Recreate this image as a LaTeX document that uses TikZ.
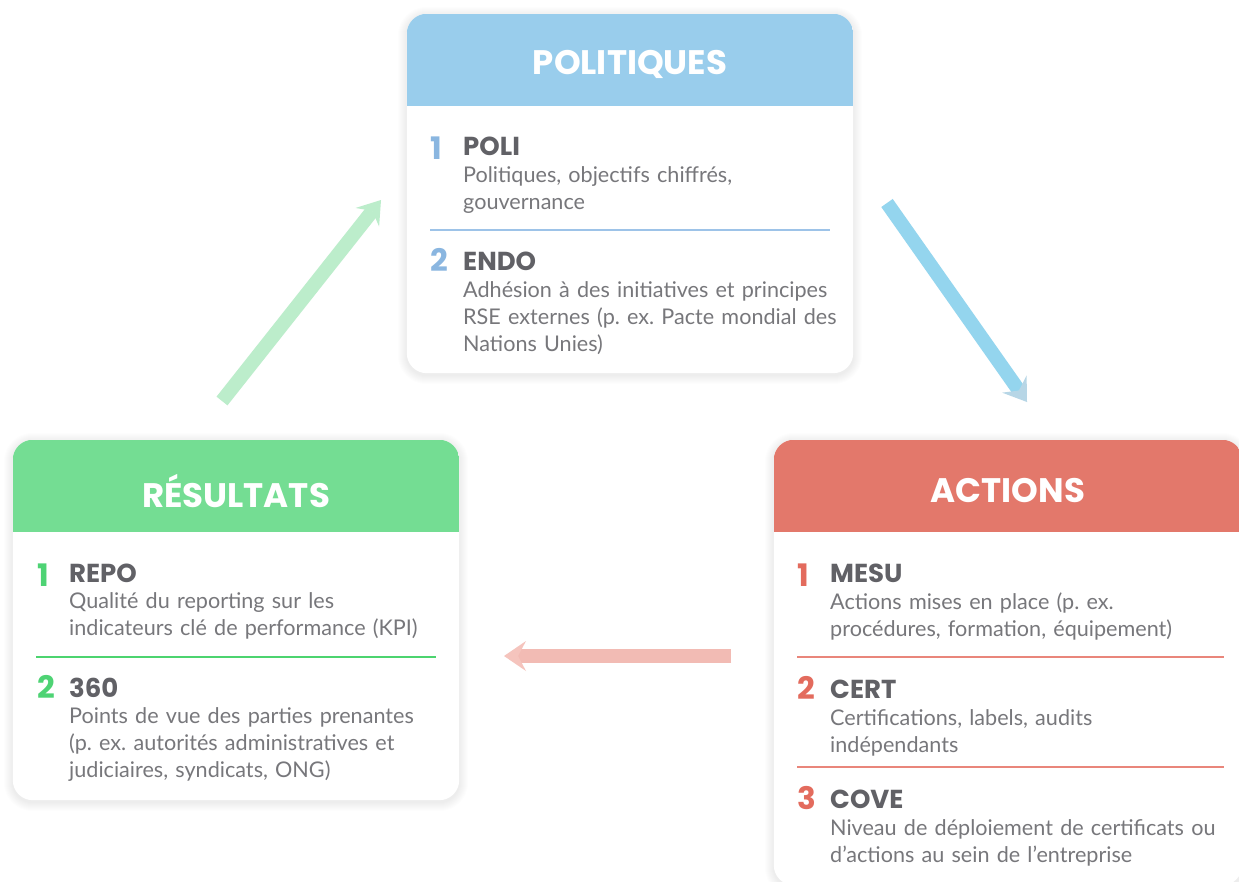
\documentclass[tikz,border=0pt]{standalone}
\usepackage{fontspec}
\setmainfont{Lato}
\newfontfamily\headfont{Poppins}
\usetikzlibrary{arrows.meta,positioning}
\frenchspacing

\definecolor{polhead}{HTML}{99CDEC}
\definecolor{polnum}{HTML}{8AB6E0}
\definecolor{polline}{HTML}{9DC3E8}
\definecolor{acthead}{HTML}{E3786B}
\definecolor{actnum}{HTML}{E36B5D}
\definecolor{actline}{HTML}{E9867B}
\definecolor{reshead}{HTML}{74DD93}
\definecolor{resnum}{HTML}{4ED374}
\definecolor{resline}{HTML}{4CD46F}
\definecolor{titlegray}{HTML}{616166}
\definecolor{descgray}{HTML}{77777B}
\definecolor{bluearrow}{HTML}{94D5EE}
\definecolor{bluetip}{HTML}{B7D6E6}
\definecolor{greenarrow}{HTML}{BCEDCB}
\definecolor{redarrow}{HTML}{F2BBB4}
\definecolor{redtip}{HTML}{F5C4BD}

\tikzset{
  card/.style={inner sep=0pt},
  cardtitle/.style={text=white, inner sep=0pt, font=\headfont\bfseries\fontsize{34}{40}\selectfont},
  num/.style={anchor=base west, inner sep=0pt, font=\headfont\bfseries\fontsize{31}{36}\selectfont},
  itemtitle/.style={anchor=base west, inner sep=0pt, text=titlegray, font=\headfont\bfseries\fontsize{26}{30}\selectfont},
  desc/.style={anchor=base west, inner sep=0pt, text=descgray, text width=420pt, align=left, font=\fontsize{21.6}{27}\selectfont},
  flow/.style={line width=14pt},
}

\begin{document}
\begin{tikzpicture}[x=1pt, y=-1pt]
  \clip (0,0) rectangle (1239,881);
  \fill[white] (0,0) rectangle (1239,881);

  % the three cards
  \node[card, minimum width=446pt, minimum height=359pt] (pol) at (630,193.5) {};
  \node[card, minimum width=446pt, minimum height=360pt] (res) at (236,620) {};
  \node[card, minimum width=468pt, minimum height=445pt] (act) at (1008,662.5) {};

  % soft shadow, then the white card and its coloured head
  \foreach \c/\h in {pol/polhead, res/reshead, act/acthead} {
    \foreach \s in {1,...,9}
      \fill[black, opacity=0.006, rounded corners={(20+\s)*1pt}]
        ([shift={(-\s,-\s+2)}]\c.north west) rectangle ([shift={(\s,\s+2)}]\c.south east);
    \fill[white, rounded corners=20pt] (\c.north west) rectangle (\c.south east);
    \begin{scope}
      \clip[rounded corners=20pt] (\c.north west) rectangle (\c.south east);
      \fill[\h] (\c.north west) rectangle ([yshift=-92pt]\c.north east);
    \end{scope}
  }

  \node[cardtitle] (poltitle) at ([yshift=-51pt]pol.north) {POLITIQUES};
  \node[cardtitle] (restitle) at ([yshift=-51pt]res.north) {RÉSULTATS};
  \node[cardtitle] (acttitle) at ([yshift=-51pt]act.north) {ACTIONS};

  % politiques
  \node[num, text=polnum] (p1n) at (430,159) {1};
  \node[itemtitle] (p1t) at (463,155) {POLI};
  \node[desc] (p1d) at (463,182) {Politiques, objectifs chiffrés,\\gouvernance};
  \draw[polline, line width=1.2pt] (430,230) -- (830,230);
  \node[num, text=polnum] (p2n) at (430,271) {2};
  \node[itemtitle] (p2t) at (463,270) {ENDO};
  \node[desc] (p2d) at (463,297) {Adhésion à des initiatives et principes\\RSE externes (p. ex. Pacte mondial des\\Nations Unies)};

  % resultats
  \node[num, text=resnum] (r1n) at (37,586) {1};
  \node[itemtitle] (r1t) at (69,582) {REPO};
  \node[desc] (r1d) at (69,608) {Qualité du reporting sur les\\indicateurs clé de performance (KPI)};
  \draw[resline, line width=1.2pt] (36,657) -- (436,657);
  \node[num, text=resnum] (r2n) at (37,698) {2};
  \node[itemtitle] (r2t) at (69,697) {360};
  \node[desc] (r2d) at (69,723) {Points de vue des parties prenantes\\(p. ex. autorités administratives et\\judiciaires, syndicats, ONG)};

  % actions
  \node[num, text=actnum] (a1n) at (797,586) {1};
  \node[itemtitle] (a1t) at (830,582) {MESU};
  \node[desc] (a1d) at (830,609) {Actions mises en place (p. ex.\\procédures, formation, équipement)};
  \draw[actline, line width=1.2pt] (797,657) -- (1224,657);
  \node[num, text=actnum] (a2n) at (797,699) {2};
  \node[itemtitle] (a2t) at (830,698) {CERT};
  \node[desc] (a2d) at (830,725) {Certifications, labels, audits\\indépendants};
  \draw[actline, line width=1.2pt] (797,767) -- (1224,767);
  \node[num, text=actnum] (a3n) at (797,809) {3};
  \node[itemtitle] (a3t) at (830,808) {COVE};
  \node[desc] (a3d) at (830,835) {Niveau de déploiement de certificats ou\\d’actions au sein de l’entreprise};

  % arrows between the cards
  \coordinate (polout) at (887,203);
  \coordinate (actin) at (1027,402);
  \coordinate (actout) at (731,656);
  \coordinate (resin) at (504,656);
  \coordinate (resout) at (222,401);
  \coordinate (polin) at (381,200);
  \draw[flow, bluearrow, -{Stealth[length=22pt, width=30pt, inset=8pt, line width=0pt, color=bluetip]}] (polout) -- (actin);
  \draw[flow, redarrow, -{Stealth[length=22pt, width=30pt, inset=8pt, line width=0pt, color=redtip]}] (actout) -- (resin);
  \draw[flow, greenarrow, -{Stealth[length=22pt, width=30pt, inset=8pt, line width=0pt]}] (resout) -- (polin);
\end{tikzpicture}
\end{document}
